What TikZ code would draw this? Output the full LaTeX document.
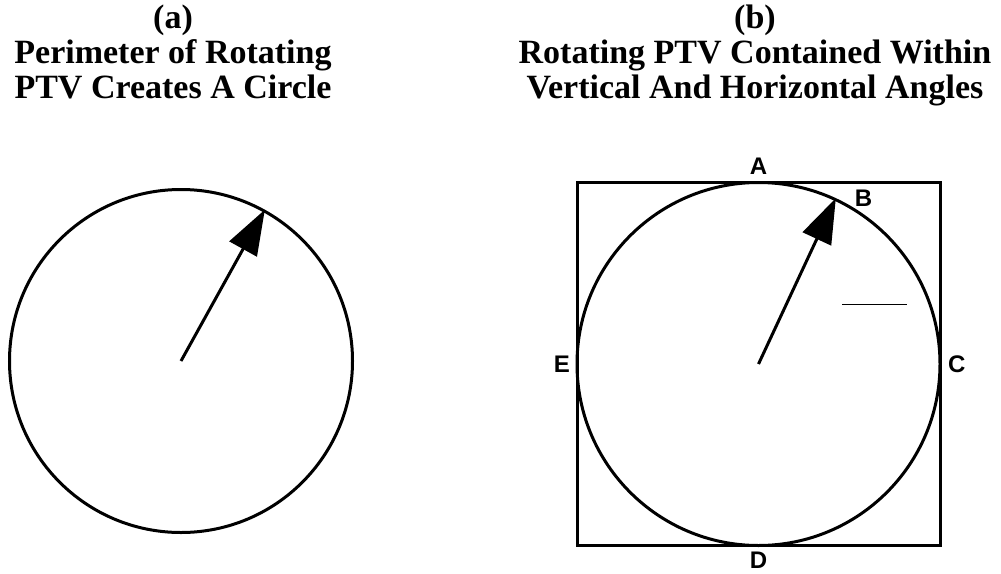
\documentclass[tikz,border=0pt]{standalone}
\usepackage{fontspec}
\setmainfont{Liberation Serif}
\newfontfamily\etiq{Liberation Sans}
\usetikzlibrary{arrows.meta,positioning,shapes}

\begin{document}
\begin{tikzpicture}[x=1pt, y=-1pt, line width=3pt, node distance=6pt]

    % Estilos para los nodos
    \tikzstyle{titulo}=[align=center, font=\bfseries\fontsize{34}{35}\selectfont, inner sep=0pt]
    \tikzstyle{rueda}=[circle, draw, inner sep=0pt]
    \tikzstyle{marco}=[rectangle, draw, inner sep=0pt, minimum size=363pt]
    \tikzstyle{letra}=[font=\etiq\bfseries\fontsize{24}{24}\selectfont, inner sep=0pt]
    \tikzstyle{vector}=[-{Triangle[length=45pt, width=31pt]}]

    \useasboundingbox (0,0) rectangle (1001,573);

    % Titulos
    \node[titulo, anchor=north] (tA) at (173,3) {(a)\\Perimeter of Rotating\\PTV Creates A Circle};
    \node[titulo, anchor=north] (tB) at (755,3) {(b)\\Rotating PTV Contained Within\\Vertical And Horizontal Angles};

    % (a) circulo con el vector
    \node[rueda, minimum size=343pt] (Ca) at (181,361) {};
    \draw[vector] (Ca.center) -- (Ca.61);

    % (b) cuadro, circulo y vector
    \node[marco] (Sq) at (758.5,364) {};
    \node[rueda, minimum size=363pt] (Cb) at (Sq.center) {};
    \draw[vector] (Cb.center) -- (Cb.65);

    % Letras de los puntos
    \node[letra] (A) [above=5pt of Sq.north] {A};
    \node[letra] (B) [above=of Cb.55] {B};
    \node[letra] (C) [right=5pt of Sq.east] {C};
    \node[letra] (D) [below=3pt of Sq.south] {D};
    \node[letra] (E) [left=4pt of Sq.west] {E};

    % Marca suelta
    \draw[line width=0.8pt] (842,304) -- (907,304);
\end{tikzpicture}
\end{document}
